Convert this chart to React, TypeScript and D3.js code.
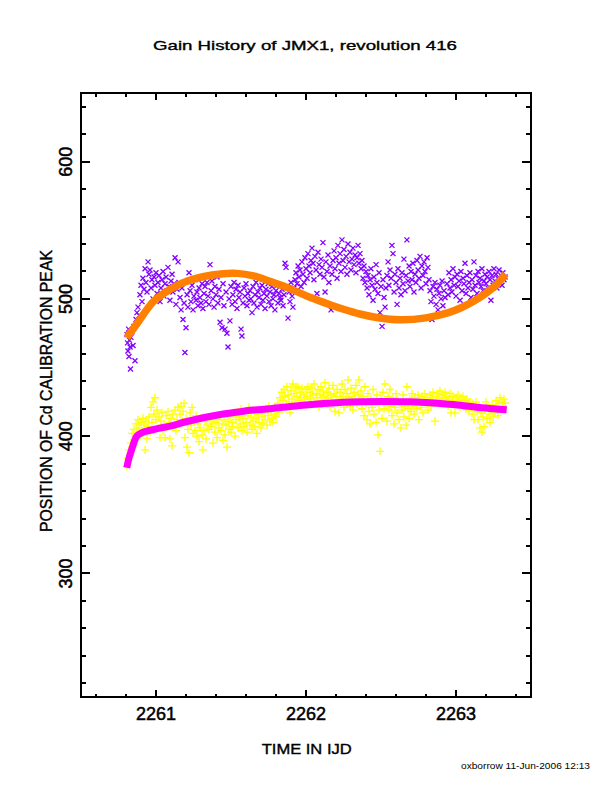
import * as d3 from "d3";

// Cd calibration line, upper peak (purple x)
const upperPeak: [number, number][] = [
  [2260.807, 474], [2260.81, 468], [2260.813, 462], [2260.817, 478], [2260.82, 458], [2260.823, 470],
  [2260.827, 465], [2260.83, 449], [2260.833, 472], [2260.84, 476], [2260.847, 466], [2260.853, 480],
  [2260.86, 455], [2260.867, 485], [2260.873, 490], [2260.88, 494], [2260.887, 488], [2260.893, 503],
  [2260.9, 510], [2260.907, 498], [2260.913, 515], [2260.92, 507], [2260.927, 522], [2260.933, 512],
  [2260.94, 505], [2260.947, 527], [2260.953, 518], [2260.96, 521], [2260.967, 508], [2260.973, 514],
  [2260.98, 500], [2260.987, 516], [2260.993, 510], [2261.0, 519], [2261.007, 504], [2261.013, 512],
  [2261.02, 517], [2261.027, 498], [2261.033, 508], [2261.04, 514], [2261.047, 520], [2261.053, 502],
  [2261.06, 511], [2261.067, 516], [2261.073, 506], [2261.08, 523], [2261.087, 509], [2261.093, 499],
  [2261.1, 513], [2261.107, 518], [2261.113, 505], [2261.12, 511], [2261.127, 530], [2261.133, 496],
  [2261.14, 507], [2261.147, 527], [2261.153, 512], [2261.16, 501], [2261.167, 492], [2261.173, 508],
  [2261.18, 485], [2261.187, 497], [2261.193, 461], [2261.2, 479], [2261.207, 503], [2261.213, 494],
  [2261.22, 519], [2261.227, 506], [2261.233, 498], [2261.24, 510], [2261.247, 492], [2261.253, 502],
  [2261.26, 514], [2261.267, 499], [2261.273, 505], [2261.28, 495], [2261.287, 508], [2261.293, 501],
  [2261.3, 497], [2261.307, 511], [2261.313, 493], [2261.32, 504], [2261.327, 509], [2261.333, 498],
  [2261.34, 512], [2261.347, 502], [2261.353, 496], [2261.36, 525], [2261.367, 506], [2261.373, 513],
  [2261.38, 500], [2261.387, 494], [2261.393, 509], [2261.4, 503], [2261.407, 516], [2261.413, 497],
  [2261.42, 507], [2261.427, 483], [2261.433, 501], [2261.44, 479], [2261.447, 511], [2261.453, 495],
  [2261.46, 478], [2261.467, 505], [2261.473, 475], [2261.48, 465], [2261.487, 500], [2261.493, 484],
  [2261.5, 509], [2261.507, 496], [2261.513, 503], [2261.52, 512], [2261.527, 498], [2261.533, 507],
  [2261.54, 493], [2261.547, 510], [2261.553, 501], [2261.56, 505], [2261.567, 478], [2261.573, 473],
  [2261.58, 497], [2261.587, 508], [2261.593, 502], [2261.6, 511], [2261.607, 495], [2261.613, 504],
  [2261.62, 499], [2261.627, 506], [2261.633, 500], [2261.64, 490], [2261.647, 509], [2261.653, 497],
  [2261.66, 503], [2261.667, 512], [2261.673, 494], [2261.68, 505], [2261.687, 501], [2261.693, 508],
  [2261.7, 496], [2261.707, 510], [2261.713, 499], [2261.72, 504], [2261.727, 493], [2261.733, 507],
  [2261.74, 502], [2261.747, 511], [2261.753, 498], [2261.76, 505], [2261.767, 495], [2261.773, 509],
  [2261.78, 500], [2261.787, 503], [2261.793, 492], [2261.8, 506], [2261.807, 510], [2261.813, 497],
  [2261.82, 504], [2261.827, 501], [2261.833, 499], [2261.84, 507], [2261.847, 495], [2261.853, 503],
  [2261.86, 526], [2261.867, 523], [2261.873, 509], [2261.88, 486], [2261.887, 505], [2261.893, 498],
  [2261.9, 512], [2261.907, 502], [2261.913, 494], [2261.92, 508], [2261.927, 514], [2261.933, 519],
  [2261.94, 511], [2261.947, 524], [2261.953, 516], [2261.96, 521], [2261.967, 509], [2261.973, 527],
  [2261.98, 518], [2261.987, 512], [2261.993, 530], [2262.0, 522], [2262.007, 515], [2262.013, 533],
  [2262.02, 524], [2262.027, 519], [2262.033, 528], [2262.04, 537], [2262.047, 526], [2262.053, 514],
  [2262.06, 531], [2262.067, 521], [2262.073, 504], [2262.08, 534], [2262.087, 525], [2262.093, 518],
  [2262.1, 529], [2262.107, 523], [2262.113, 541], [2262.12, 516], [2262.127, 505], [2262.133, 527],
  [2262.14, 520], [2262.147, 532], [2262.153, 512], [2262.16, 524], [2262.167, 492], [2262.173, 518],
  [2262.18, 528], [2262.187, 535], [2262.193, 522], [2262.2, 530], [2262.207, 515], [2262.213, 539],
  [2262.22, 526], [2262.227, 533], [2262.233, 520], [2262.24, 543], [2262.247, 528], [2262.253, 536],
  [2262.26, 523], [2262.267, 531], [2262.273, 518], [2262.28, 540], [2262.287, 527], [2262.293, 534],
  [2262.3, 521], [2262.307, 529], [2262.313, 537], [2262.32, 525], [2262.327, 532], [2262.333, 519],
  [2262.34, 530], [2262.347, 539], [2262.353, 526], [2262.36, 533], [2262.367, 522], [2262.373, 528],
  [2262.38, 515], [2262.387, 524], [2262.393, 512], [2262.4, 520], [2262.407, 508], [2262.413, 517],
  [2262.42, 503], [2262.427, 514], [2262.433, 522], [2262.44, 510], [2262.447, 499], [2262.453, 516],
  [2262.46, 507], [2262.467, 525], [2262.473, 512], [2262.48, 504], [2262.487, 519], [2262.493, 490],
  [2262.5, 509], [2262.507, 480], [2262.513, 514], [2262.52, 501], [2262.527, 494], [2262.533, 508],
  [2262.54, 517], [2262.547, 527], [2262.553, 510], [2262.56, 521], [2262.567, 515], [2262.573, 539],
  [2262.58, 533], [2262.587, 505], [2262.593, 518], [2262.6, 512], [2262.607, 496], [2262.613, 522],
  [2262.62, 508], [2262.627, 515], [2262.633, 503], [2262.64, 519], [2262.647, 511], [2262.653, 529],
  [2262.66, 506], [2262.667, 517], [2262.673, 543], [2262.68, 513], [2262.687, 524], [2262.693, 509],
  [2262.7, 520], [2262.707, 514], [2262.713, 526], [2262.72, 505], [2262.727, 518], [2262.733, 512],
  [2262.74, 528], [2262.747, 521], [2262.753, 515], [2262.76, 531], [2262.767, 508], [2262.773, 524],
  [2262.78, 517], [2262.787, 527], [2262.793, 520], [2262.8, 511], [2262.807, 530], [2262.813, 523],
  [2262.82, 514], [2262.827, 506], [2262.833, 498], [2262.84, 485], [2262.847, 509], [2262.853, 502],
  [2262.86, 512], [2262.867, 496], [2262.873, 507], [2262.88, 492], [2262.887, 504], [2262.893, 510],
  [2262.9, 500], [2262.907, 513], [2262.913, 495], [2262.92, 506], [2262.927, 501], [2262.933, 490],
  [2262.94, 511], [2262.947, 503], [2262.953, 519], [2262.96, 508], [2262.967, 514], [2262.973, 505],
  [2262.98, 522], [2262.987, 510], [2262.993, 516], [2263.0, 502], [2263.007, 518], [2263.013, 509],
  [2263.02, 513], [2263.027, 499], [2263.033, 520], [2263.04, 506], [2263.047, 515], [2263.053, 511],
  [2263.06, 526], [2263.067, 504], [2263.073, 517], [2263.08, 508], [2263.087, 512], [2263.093, 519],
  [2263.1, 501], [2263.107, 514], [2263.113, 507], [2263.12, 527], [2263.127, 510], [2263.133, 517],
  [2263.14, 504], [2263.147, 520], [2263.153, 512], [2263.16, 515], [2263.167, 509], [2263.173, 522],
  [2263.18, 506], [2263.187, 513], [2263.193, 518], [2263.2, 511], [2263.207, 516], [2263.213, 508],
  [2263.22, 520], [2263.227, 514], [2263.233, 499], [2263.24, 517], [2263.247, 510], [2263.253, 522],
  [2263.26, 513], [2263.267, 518], [2263.273, 508], [2263.28, 515], [2263.287, 521], [2263.293, 512],
  [2263.3, 517], [2263.307, 510], [2263.313, 519], [2263.32, 514], [2263.327, 516],
];

// Cd calibration line, lower peak (yellow +)
const lowerPeak: [number, number][] = [
  [2260.807, 378], [2260.813, 384], [2260.82, 390], [2260.827, 386], [2260.833, 395], [2260.84, 402],
  [2260.847, 392], [2260.853, 405], [2260.86, 398], [2260.867, 409], [2260.873, 403], [2260.88, 412],
  [2260.887, 406], [2260.893, 400], [2260.9, 410], [2260.907, 404], [2260.913, 413], [2260.92, 408],
  [2260.927, 390], [2260.933, 411], [2260.94, 398], [2260.947, 407], [2260.953, 414], [2260.96, 403],
  [2260.967, 421], [2260.973, 410], [2260.98, 425], [2260.987, 416], [2260.993, 428], [2261.0, 412],
  [2261.007, 419], [2261.013, 406], [2261.02, 414], [2261.027, 399], [2261.033, 411], [2261.04, 417],
  [2261.047, 404], [2261.053, 409], [2261.06, 399], [2261.067, 415], [2261.073, 407], [2261.08, 418],
  [2261.087, 410], [2261.093, 398], [2261.1, 413], [2261.107, 393], [2261.113, 416], [2261.12, 408],
  [2261.127, 419], [2261.133, 404], [2261.14, 412], [2261.147, 421], [2261.153, 409], [2261.16, 416],
  [2261.167, 422], [2261.173, 411], [2261.18, 418], [2261.187, 424], [2261.193, 399], [2261.2, 413],
  [2261.207, 392], [2261.213, 405], [2261.22, 388], [2261.227, 417], [2261.233, 408], [2261.24, 421],
  [2261.247, 402], [2261.253, 411], [2261.26, 404], [2261.267, 415], [2261.273, 400], [2261.28, 409],
  [2261.287, 396], [2261.293, 406], [2261.3, 413], [2261.307, 401], [2261.313, 390], [2261.32, 404],
  [2261.327, 411], [2261.333, 398], [2261.34, 408], [2261.347, 414], [2261.353, 405], [2261.36, 412],
  [2261.367, 407], [2261.373, 409], [2261.38, 395], [2261.387, 413], [2261.393, 403], [2261.4, 410],
  [2261.407, 399], [2261.413, 412], [2261.42, 406], [2261.427, 415], [2261.433, 404], [2261.44, 409],
  [2261.447, 397], [2261.453, 412], [2261.46, 401], [2261.467, 408], [2261.473, 392], [2261.48, 411],
  [2261.487, 405], [2261.493, 414], [2261.5, 403], [2261.507, 410], [2261.513, 407], [2261.52, 416],
  [2261.527, 400], [2261.533, 412], [2261.54, 418], [2261.547, 406], [2261.553, 414], [2261.56, 409],
  [2261.567, 420], [2261.573, 404], [2261.58, 413], [2261.587, 407], [2261.593, 417], [2261.6, 410],
  [2261.607, 403], [2261.613, 415], [2261.62, 421], [2261.627, 408], [2261.633, 414], [2261.64, 405],
  [2261.647, 411], [2261.653, 418], [2261.66, 407], [2261.667, 413], [2261.673, 402], [2261.68, 416],
  [2261.687, 410], [2261.693, 419], [2261.7, 406], [2261.707, 414], [2261.713, 409], [2261.72, 417],
  [2261.727, 412], [2261.733, 420], [2261.74, 408], [2261.747, 415], [2261.753, 422], [2261.76, 411],
  [2261.767, 418], [2261.773, 413], [2261.78, 410], [2261.787, 416], [2261.793, 421], [2261.8, 414],
  [2261.807, 419], [2261.813, 424], [2261.82, 417], [2261.827, 428], [2261.833, 421], [2261.84, 432],
  [2261.847, 426], [2261.853, 434], [2261.86, 429], [2261.867, 423], [2261.873, 436], [2261.88, 430],
  [2261.887, 425], [2261.893, 417], [2261.9, 433], [2261.907, 427], [2261.913, 438], [2261.92, 431],
  [2261.927, 424], [2261.933, 435], [2261.94, 429], [2261.947, 436], [2261.953, 426], [2261.96, 432],
  [2261.967, 428], [2261.973, 435], [2261.98, 423], [2261.987, 430], [2261.993, 427], [2262.0, 434],
  [2262.007, 429], [2262.013, 436], [2262.02, 425], [2262.027, 432], [2262.033, 427], [2262.04, 435],
  [2262.047, 430], [2262.053, 438], [2262.06, 424], [2262.067, 431], [2262.073, 428], [2262.08, 434],
  [2262.087, 421], [2262.093, 430], [2262.1, 436], [2262.107, 426], [2262.113, 433], [2262.12, 429],
  [2262.127, 439], [2262.133, 425], [2262.14, 432], [2262.147, 428], [2262.153, 435], [2262.16, 421],
  [2262.167, 430], [2262.173, 426], [2262.18, 437], [2262.187, 431], [2262.193, 418], [2262.2, 429],
  [2262.207, 434], [2262.213, 424], [2262.22, 417], [2262.227, 432], [2262.233, 427], [2262.24, 438],
  [2262.247, 429], [2262.253, 421], [2262.26, 434], [2262.267, 426], [2262.273, 431], [2262.28, 441],
  [2262.287, 428], [2262.293, 422], [2262.3, 435], [2262.307, 429], [2262.313, 419], [2262.32, 432],
  [2262.327, 427], [2262.333, 437], [2262.34, 424], [2262.347, 430], [2262.353, 441], [2262.36, 426],
  [2262.367, 433], [2262.373, 420], [2262.38, 429], [2262.387, 415], [2262.393, 436], [2262.4, 424],
  [2262.407, 412], [2262.413, 431], [2262.42, 418], [2262.427, 409], [2262.433, 427], [2262.44, 421],
  [2262.447, 434], [2262.453, 416], [2262.46, 425], [2262.467, 410], [2262.473, 430], [2262.48, 401],
  [2262.487, 419], [2262.493, 389], [2262.5, 427], [2262.507, 413], [2262.513, 432], [2262.52, 420],
  [2262.527, 438], [2262.533, 424], [2262.54, 411], [2262.547, 429], [2262.553, 419], [2262.56, 434],
  [2262.567, 422], [2262.573, 415], [2262.58, 428], [2262.587, 409], [2262.593, 421], [2262.6, 431],
  [2262.607, 417], [2262.613, 426], [2262.62, 412], [2262.627, 423], [2262.633, 406], [2262.64, 419],
  [2262.647, 430], [2262.653, 414], [2262.66, 422], [2262.667, 408], [2262.673, 436], [2262.68, 420],
  [2262.687, 413], [2262.693, 427], [2262.7, 418], [2262.707, 431], [2262.713, 422], [2262.72, 416],
  [2262.727, 428], [2262.733, 424], [2262.74, 420], [2262.747, 430], [2262.753, 412], [2262.76, 426],
  [2262.767, 421], [2262.773, 429], [2262.78, 417], [2262.787, 425], [2262.793, 431], [2262.8, 423],
  [2262.807, 428], [2262.813, 419], [2262.82, 426], [2262.827, 430], [2262.833, 422], [2262.84, 427],
  [2262.847, 432], [2262.853, 424], [2262.86, 411], [2262.867, 429], [2262.873, 425], [2262.88, 431],
  [2262.887, 427], [2262.893, 433], [2262.9, 426], [2262.907, 430], [2262.913, 424], [2262.92, 428],
  [2262.927, 432], [2262.933, 425], [2262.94, 429], [2262.947, 422], [2262.953, 427], [2262.96, 431],
  [2262.967, 417], [2262.973, 426], [2262.98, 429], [2262.987, 423], [2262.993, 417], [2263.0, 428],
  [2263.007, 424], [2263.013, 430], [2263.02, 426], [2263.027, 421], [2263.033, 427], [2263.04, 424],
  [2263.047, 429], [2263.053, 422], [2263.06, 426], [2263.067, 420], [2263.073, 427], [2263.08, 423],
  [2263.087, 419], [2263.093, 425], [2263.1, 421], [2263.107, 416], [2263.113, 424], [2263.12, 412],
  [2263.127, 420], [2263.133, 425], [2263.14, 418], [2263.147, 412], [2263.153, 422], [2263.16, 406],
  [2263.167, 417], [2263.173, 403], [2263.18, 414], [2263.187, 407], [2263.193, 419], [2263.2, 425],
  [2263.207, 413], [2263.213, 421], [2263.22, 416], [2263.227, 410], [2263.233, 419], [2263.24, 423],
  [2263.247, 414], [2263.253, 420], [2263.26, 417], [2263.267, 426], [2263.273, 421], [2263.28, 415],
  [2263.287, 424], [2263.293, 428], [2263.3, 419], [2263.307, 425], [2263.313, 422], [2263.32, 427],
  [2263.327, 424],
];

// fitted gain curves
const upperFit: [number, number][] = [
  [2260.805, 471.6], [2260.88, 483], [2260.982, 498], [2261.09, 506.7], [2261.205, 512.8],
  [2261.32, 516.3], [2261.43, 518.2], [2261.54, 518.6], [2261.65, 516.8], [2261.76, 512.8],
  [2261.87, 508.5], [2261.94, 505.3], [2262.03, 501], [2262.16, 495.8], [2262.25, 492.5],
  [2262.36, 489], [2262.47, 486.5], [2262.63, 484.8], [2262.8, 486.2], [2262.95, 490],
  [2263.03, 493.4], [2263.12, 498.5], [2263.2, 504.2], [2263.27, 510.5], [2263.33, 518],
];

const lowerFit: [number, number][] = [
  [2260.805, 377], [2260.82, 384], [2260.838, 390.4], [2260.855, 396], [2260.871, 400],
  [2260.9, 402.3], [2260.938, 403.7], [2261.0, 405.3], [2261.093, 407.3], [2261.2, 410.5],
  [2261.315, 413.4], [2261.43, 415.8], [2261.538, 417.5], [2261.65, 419], [2261.76, 420],
  [2261.93, 422], [2262.093, 423.6], [2262.25, 424.7], [2262.36, 425.1], [2262.53, 425.3],
  [2262.693, 425.1], [2262.8, 424.5], [2262.915, 423.6], [2263.03, 422.5], [2263.138, 421.1],
  [2263.25, 420], [2263.338, 419.2],
];

const xTickLabels = [2261, 2262, 2263];
const yTickLabels = [300, 400, 500, 600];

const FONT = "'Liberation Sans', Arial, sans-serif";

export default function App() {
  const x = d3.scaleLinear().domain([2260.5, 2263.5]).range([81, 531]);
  const y = d3.scaleLinear().domain([210, 650]).range([697, 93]);

  const line = d3
    .line<[number, number]>()
    .x((d) => x(d[0]))
    .y((d) => y(d[1]))
    .curve(d3.curveCatmullRom);

  const xMinor = x.ticks(15);
  const yMinor = y.ticks(22);
  const [x0, x1] = x.range();
  const [y0, y1] = y.range();

  return (
    <svg
      width={612}
      height={792}
      style={{ position: "absolute", left: 0, top: 0, background: "white" }}
      fontFamily={FONT}
    >
      <text x={305} y={50} fontSize={13} textAnchor="middle" textLength={304} lengthAdjust="spacingAndGlyphs" stroke="black" strokeWidth={0.35}>
        Gain History of JMX1, revolution 416
      </text>

      {/* data */}
      <g stroke="#8000ff" strokeWidth={1.3}>
        {upperPeak.map((d, i) => (
          <path
            key={i}
            transform={`translate(${x(d[0])},${y(d[1])})`}
            d="M-2.5,-2.5L2.5,2.5M-2.5,2.5L2.5,-2.5"
          />
        ))}
      </g>
      <g stroke="#ffff00" strokeWidth={1.3}>
        {lowerPeak.map((d, i) => (
          <path key={i} transform={`translate(${x(d[0])},${y(d[1])})`} d="M-4,0H4M0,-4V4" />
        ))}
      </g>
      <path d={line(upperFit) ?? ""} fill="none" stroke="#ff8000" strokeWidth={7.5} />
      <path d={line(lowerFit) ?? ""} fill="none" stroke="#ff00ff" strokeWidth={7} />

      {/* frame and ticks */}
      <g stroke="black" strokeWidth={2} fill="none" shapeRendering="crispEdges">
        <rect x={x0} y={y1} width={x1 - x0} height={y0 - y1} />
        {xMinor.map((t) => {
          const major = xTickLabels.includes(Math.round(t * 10) / 10);
          const len = major ? 7 : 3.5;
          return (
            <g key={t}>
              <line x1={x(t)} x2={x(t)} y1={y0} y2={y0 - len} />
              <line x1={x(t)} x2={x(t)} y1={y1} y2={y1 + len} />
            </g>
          );
        })}
        {yMinor.map((t) => {
          const major = yTickLabels.includes(t);
          const len = major ? 9 : 5;
          return (
            <g key={t}>
              <line x1={x0} x2={x0 + len} y1={y(t)} y2={y(t)} />
              <line x1={x1} x2={x1 - len} y1={y(t)} y2={y(t)} />
            </g>
          );
        })}
      </g>

      <g stroke="black" strokeWidth={0.5}>
        {xTickLabels.map((t) => (
          <text key={t} x={x(t)} y={720} fontSize={18} textAnchor="middle">
            {t}
          </text>
        ))}
        {yTickLabels.map((t) => (
          <text
            key={t}
            transform={`translate(72,${y(t)}) rotate(-90)`}
            fontSize={18}
            textAnchor="middle"
          >
            {t}
          </text>
        ))}
      </g>

      <g stroke="black" strokeWidth={0.4}>
        <text x={306.7} y={754} fontSize={15.5} textAnchor="middle" textLength={90} lengthAdjust="spacingAndGlyphs">
          TIME IN IJD
        </text>
        <text
          transform="translate(52,391) rotate(-90)"
          fontSize={17}
          textAnchor="middle"
          textLength={282}
          lengthAdjust="spacingAndGlyphs"
        >
          POSITION OF Cd CALIBRATION PEAK
        </text>
      </g>
      <text x={461} y={769} fontSize={8.5} textLength={129} lengthAdjust="spacingAndGlyphs">
        oxborrow 11-Jun-2006 12:13
      </text>
    </svg>
  );
}
